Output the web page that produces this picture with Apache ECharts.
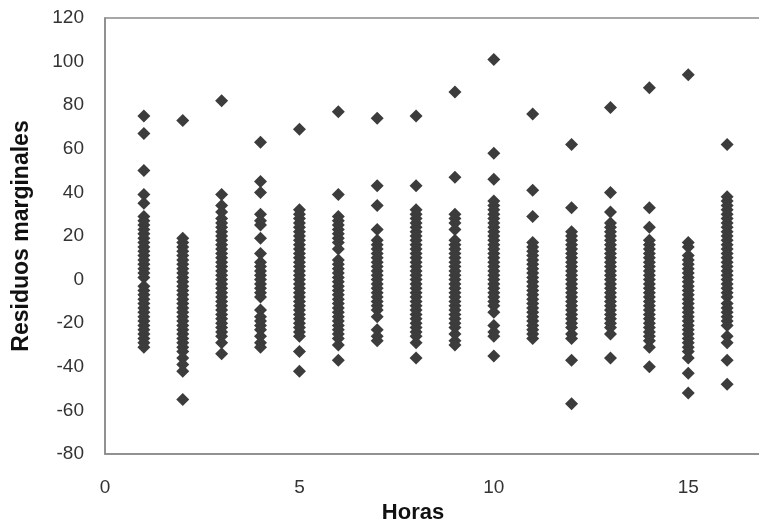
<!DOCTYPE html>
<html>
<head>
<meta charset="utf-8">
<script src="https://cdn.jsdelivr.net/npm/echarts@6/dist/echarts.min.js"></script>
<style>
html,body{margin:0;padding:0;background:#fff;}
#chart{width:759px;height:524px;}
</style>
</head>
<body>
<div id="chart"></div>
<script>
const hours = [1, 2, 3, 4, 5, 6, 7, 8, 9, 10, 11, 12, 13, 14, 15, 16];
const xTicks = [0, 5, 10, 15];
const yTicks = [-80, -60, -40, -20, 0, 20, 40, 60, 80, 100, 120];

const h1 = [75, 67, 50, 39, 35, 29, 27, 25, 23, 21, 19, 17, 15, 13, 11, 9, 7, 5, 3, 1, -3, -5, -7, -9, -11, -13, -15, -17, -19, -21, -23, -25, -27, -29, -31];
const h2 = [73, 19, 17, 15, 13, 11, 9, 7, 5, 3, 1, -1, -3, -5, -7, -9, -11, -13, -15, -17, -19, -21, -23, -25, -27, -29, -31, -33, -36, -39, -42, -55];
const h3 = [82, 39, 34, 31, 28, 26, 24, 22, 20, 18, 16, 14, 12, 10, 8, 6, 4, 2, 0, -2, -4, -6, -8, -10, -12, -14, -16, -18, -20, -22, -24, -26, -29, -34];
const h4 = [63, 45, 40, 30, 27, 25, 19, 12, 8, 6, 4, 2, 0, -2, -4, -6, -8, -14, -17, -19, -21, -23, -26, -29, -31];
const h5 = [69, 32, 30, 28, 26, 24, 22, 20, 18, 16, 14, 12, 10, 8, 6, 4, 2, 0, -2, -4, -6, -8, -10, -12, -14, -16, -18, -20, -22, -24, -26, -33, -42];
const h6 = [77, 39, 29, 27, 25, 23, 21, 19, 17, 14, 9, 7, 5, 3, 1, -1, -3, -5, -7, -9, -11, -13, -15, -17, -19, -21, -23, -25, -27, -30, -37];
const h7 = [74, 43, 34, 23, 18, 16, 14, 12, 10, 8, 6, 4, 2, 0, -2, -4, -6, -8, -10, -12, -14, -17, -23, -26, -28];
const h8 = [75, 43, 32, 30, 28, 26, 24, 22, 20, 18, 16, 14, 12, 10, 8, 6, 4, 2, 0, -2, -4, -6, -8, -10, -12, -14, -16, -18, -20, -22, -24, -26, -29, -36];
const h9 = [86, 47, 30, 28, 26, 23, 18, 16, 14, 12, 10, 8, 6, 4, 2, 0, -2, -4, -6, -8, -10, -12, -14, -16, -18, -20, -22, -25, -28, -30];
const h10 = [101, 58, 46, 36, 34, 32, 30, 28, 26, 24, 22, 20, 18, 16, 14, 12, 10, 8, 6, 4, 2, 0, -2, -4, -6, -8, -10, -12, -15, -21, -24, -26, -35];
const h11 = [76, 41, 29, 17, 15, 13, 11, 9, 7, 5, 3, 1, -1, -3, -5, -7, -9, -11, -13, -15, -17, -19, -21, -23, -25, -27];
const h12 = [62, 33, 22, 20, 18, 16, 14, 12, 10, 8, 6, 4, 2, 0, -2, -4, -6, -8, -10, -12, -14, -16, -18, -20, -22, -25, -27, -37, -57];
const h13 = [79, 40, 31, 26, 24, 22, 20, 18, 16, 14, 12, 10, 8, 6, 4, 2, 0, -2, -4, -6, -8, -10, -12, -14, -16, -18, -20, -22, -25, -36];
const h14 = [88, 33, 24, 18, 16, 14, 12, 10, 8, 6, 4, 2, 0, -2, -4, -6, -8, -10, -12, -14, -16, -18, -20, -22, -24, -26, -28, -31, -40];
const h15 = [94, 17, 15, 11, 9, 7, 5, 3, 1, -1, -3, -5, -7, -9, -11, -13, -15, -17, -19, -21, -23, -25, -27, -29, -31, -33, -36, -43, -52];
const h16 = [62, 38, 36, 34, 32, 30, 28, 26, 24, 22, 20, 18, 16, 14, 12, 10, 8, 6, 4, 2, 0, -2, -4, -6, -8, -11, -13, -15, -17, -19, -21, -26, -29, -37, -48];

const residuals = [h1, h2, h3, h4, h5, h6, h7, h8, h9, h10, h11, h12, h13, h14, h15, h16];
const points = [];
hours.forEach((h, i) => residuals[i].forEach(v => points.push([h, v])));

const chart = echarts.init(document.getElementById('chart'), null, {renderer: 'canvas'});
chart.setOption({
  animation: false,
  backgroundColor: '#ffffff',
  grid: {
    left: 105, top: 18, height: 436, width: 661,
    outerBoundsMode: 'none', containLabel: false,
    show: true, borderColor: '#8a8a8a', borderWidth: 1.5, backgroundColor: 'transparent'
  },
  xAxis: {
    type: 'value', min: xTicks[0], max: 17, interval: 5,
    name: 'Horas', nameLocation: 'middle', nameGap: 44,
    nameTextStyle: {fontFamily: 'Liberation Sans', fontWeight: 'bold', fontSize: 22, color: '#111', padding: [0, 45, 0, 0]},
    axisLine: {show: true, onZero: false, lineStyle: {color: '#8a8a8a', width: 1.5}},
    axisTick: {show: false},
    splitLine: {show: false},
    axisLabel: {
      margin: 24, fontFamily: 'Liberation Sans', fontSize: 19, color: '#333',
      showMaxLabel: false,
      formatter: v => (xTicks.indexOf(v) >= 0 ? String(v) : '')
    }
  },
  yAxis: {
    type: 'value', min: yTicks[0], max: yTicks[yTicks.length - 1], interval: 20,
    name: 'Residuos marginales', nameLocation: 'middle', nameGap: 72,
    nameTextStyle: {fontFamily: 'Liberation Sans', fontWeight: 'bold', fontSize: 23, color: '#111'},
    axisLine: {show: true, onZero: false, lineStyle: {color: '#8a8a8a', width: 1.5}},
    axisTick: {show: false},
    splitLine: {show: false},
    axisLabel: {margin: 21, fontFamily: 'Liberation Sans', fontSize: 19, color: '#333'}
  },
  series: [{
    type: 'scatter',
    symbol: 'diamond',
    symbolSize: 13,
    itemStyle: {color: '#3c3c3c', opacity: 1},
    data: points
  }]
});
</script>
</body>
</html>
